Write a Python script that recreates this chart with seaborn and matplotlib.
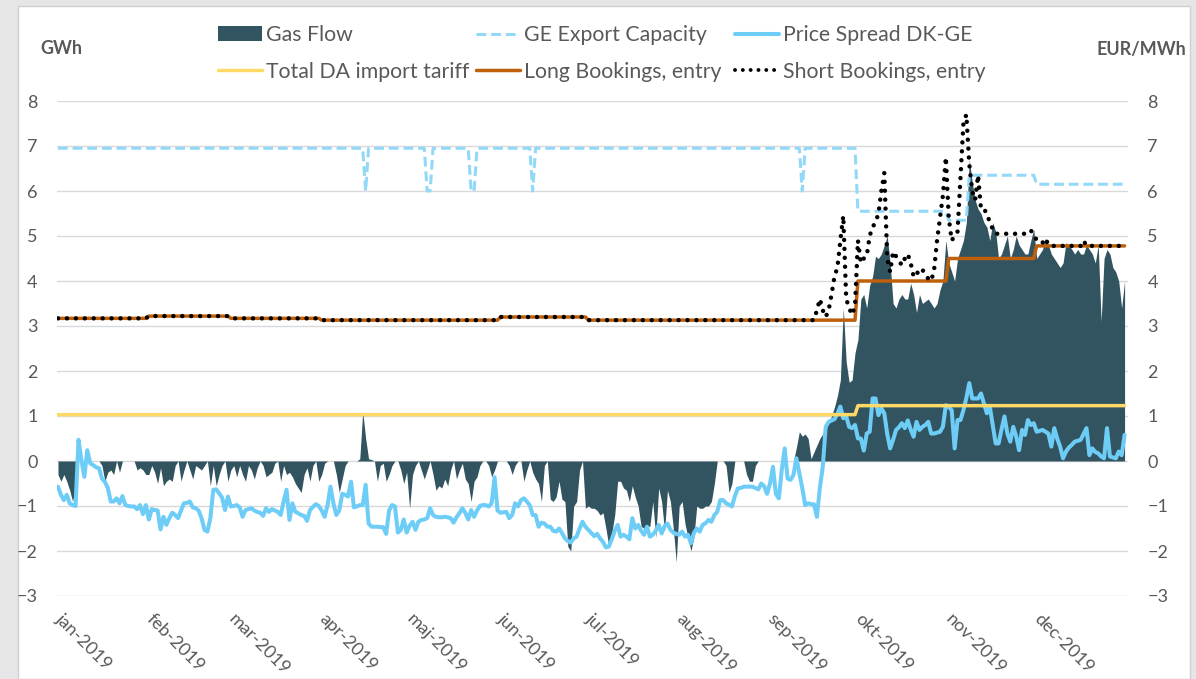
import matplotlib
matplotlib.use("Agg")
import matplotlib.pyplot as plt
from matplotlib.lines import Line2D
from matplotlib.patches import Patch, Rectangle
import numpy as np
import pandas as pd
import seaborn as sns

# ---- data (daily values for 2019) ----
month_labels = ["jan-2019", "feb-2019", "mar-2019", "apr-2019", "maj-2019", "jun-2019",
                "jul-2019", "aug-2019", "sep-2019", "okt-2019", "nov-2019", "dec-2019"]

gas_flow_jan = [-0.3, -0.45, -0.3, -0.45, -0.65, -0.9, -0.55, 0, 0, 0,
                0, 0, 0, 0, 0, -0.1, -0.45, -0.25, -0.2, -0.3,
                0, -0.25, 0, 0, 0, 0, 0, -0.2, -0.15, -0.2, -0.3]
gas_flow_feb = [-0.3, -0.1, -0.25, -0.5, -0.15, -0.55, -0.45, -0.4, -0.45, -0.1,
                0, -0.45, -0.2, 0, -0.2, -0.4, -0.1, -0.15, -0.2, -0.1,
                0, -0.55, -0.1, -0.55, -0.3, -0.1, 0, -0.45]
gas_flow_mar = [-0.2, -0.1, -0.35, -0.1, -0.3, -0.45, -0.1, -0.2, -0.4, -0.15,
                0, -0.1, -0.35, -0.3, -0.25, -0.05, 0, -0.45, -0.1, -0.3,
                -0.25, -0.35, -0.5, -0.6, -0.7, -0.3, -0.15, -0.45, -0.1, 0, -0.45]
gas_flow_apr = [-0.3, -0.05, 0, 0, 0, -0.3, -0.7, -0.4, -0.1, 0,
                0, 0, 0, 0.05, 1.1, 0.5, 0.05, 0.03, 0, -0.45,
                -0.1, -0.05, -0.45, -0.3, -0.1, 0, 0, -0.2, -0.5, -0.25]
gas_flow_may = [-1.05, -0.3, -0.1, 0, -0.2, -0.4, -0.2, 0, -0.3, -0.65,
                -0.55, -0.6, -0.4, -0.55, -0.2, 0, -0.4, -0.2, -0.05, -0.4,
                -0.5, -0.9, -0.45, -0.35, -0.1, 0, 0, -0.1, -0.35, -0.2, 0]
gas_flow_jun = [0, 0, 0, -0.1, -0.3, -0.1, 0, 0, -0.45, -0.2,
                0, -0.25, -0.4, -0.5, -0.9, -0.1, 0, -0.85, -0.9, -0.8,
                -0.45, -0.85, -0.9, -1.9, -2.0, -1.0, -0.9, -0.2, 0, -1.05]
gas_flow_jul = [-1.0, -1.05, -1.05, -1.1, -1.2, -1.15, -1.5, -1.9, -1.6, -1.2,
                -0.45, -0.45, -0.6, -0.65, -0.9, -0.55, -0.8, -1.0, -1.45, -1.5,
                -1.45, -1.45, -0.9, -1.7, -0.6, -0.9, -1.55, -0.65, -0.9, -1.5, -2.25]
gas_flow_aug = [-1.0, -0.9, -1.4, -1.7, -2.0, -1.7, -1.0, -1.05, -1.05, -1.0,
                -1.0, -0.9, -0.5, 0, 0, 0, -0.1, -0.7, -0.5, 0,
                0, 0, 0, -0.3, -0.45, -0.45, -0.1, 0, 0, 0, 0]
gas_flow_sep = [0, 0, 0, 0, 0, 0, 0, 0, 0, 0.3,
                0.65, 0.55, 0.6, 0.5, 0.05, 0.2, 0.35, 0.5, 0.6, 0.7,
                0.85, 1.0, 1.2, 1.45, 1.8, 3.4, 2.2, 1.75, 1.8, 2.4]
gas_flow_oct = [2.7, 3.6, 3.7, 3.4, 3.9, 4.1, 4.55, 4.5, 4.6, 4.8,
                5.0, 4.4, 3.5, 3.4, 3.6, 3.7, 3.6, 3.6, 3.95, 3.7,
                3.3, 3.7, 3.5, 3.55, 3.6, 3.5, 3.4, 3.5, 3.8, 4.0, 4.9]
gas_flow_nov = [4.4, 4.2, 4.0, 4.5, 4.7, 4.9, 5.3, 6.7, 6.2, 5.8,
                5.6, 5.5, 5.3, 5.2, 4.9, 5.3, 5.1, 4.5, 4.6, 4.8,
                5.0, 4.5, 4.7, 5.0, 4.8, 4.7, 4.6, 4.6, 4.9, 5.15]
gas_flow_dec = [4.5, 4.6, 4.7, 4.95, 4.8, 4.6, 4.5, 4.4, 4.3, 4.4,
                4.85, 4.8, 4.7, 4.6, 4.7, 4.6, 4.6, 4.8, 4.7, 4.6,
                4.4, 4.8, 3.1, 4.5, 4.7, 4.6, 4.3, 4.2, 4.0, 3.4, 4.0]

spread_jan = [-0.57, -0.75, -0.87, -0.75, -0.94, -0.98, -1.0, 0.47, 0.02, -0.35,
              0.24, -0.05, -0.09, -0.14, -0.16, -0.39, -0.46, -0.6, -0.9, -0.9,
              -0.83, -0.94, -0.78, -0.98, -1.0, -1.01, -1.01, -1.07, -0.98, -1.18, -0.98]
spread_feb = [-1.3, -1.07, -1.09, -1.1, -1.52, -1.24, -1.42, -1.27, -1.15, -1.2,
              -1.27, -1.1, -0.94, -0.93, -0.9, -1.03, -1.05, -1.1, -1.27, -1.53,
              -1.57, -1.27, -0.64, -0.63, -0.72, -0.81, -1.09, -0.79]
spread_mar = [-1.01, -1.0, -0.98, -1.03, -1.24, -1.09, -1.07, -1.05, -1.1, -1.13,
              -1.15, -1.22, -1.05, -1.13, -1.07, -1.1, -1.13, -1.2, -0.9, -0.64,
              -1.31, -0.94, -1.13, -1.16, -1.2, -1.22, -1.33, -1.09, -1.02, -0.96, -1.0]
spread_apr = [-1.1, -1.24, -0.98, -0.57, -0.94, -1.2, -1.1, -0.73, -0.75, -0.79,
              -0.46, -1.03, -1.01, -0.98, -0.98, -0.53, -1.39, -1.46, -1.46, -1.46,
              -1.47, -1.47, -1.62, -1.1, -0.98, -1.01, -1.59, -1.53, -1.3, -1.59]
spread_may = [-1.44, -1.35, -1.53, -1.35, -1.31, -1.3, -1.27, -1.05, -1.2, -1.24,
              -1.25, -1.25, -1.24, -1.25, -1.27, -1.37, -1.25, -1.16, -1.05, -1.15,
              -1.3, -1.09, -1.24, -1.1, -1.0, -0.98, -0.98, -1.01, -0.94, -0.36, -1.1]
spread_jun = [-1.15, -1.14, -1.13, -1.27, -1.2, -0.94, -1.01, -0.87, -0.83, -0.9,
              -0.98, -1.2, -1.2, -1.46, -1.37, -1.39, -1.46, -1.46, -1.55, -1.57,
              -1.5, -1.6, -1.72, -1.78, -1.81, -1.72, -1.68, -1.5, -1.35, -1.46]
spread_jul = [-1.53, -1.6, -1.67, -1.62, -1.72, -1.8, -1.92, -1.9, -1.74, -1.55,
              -1.42, -1.68, -1.64, -1.68, -1.74, -1.27, -1.5, -1.42, -1.55, -1.64,
              -1.46, -1.68, -1.64, -1.55, -1.42, -1.61, -1.45, -1.39, -1.53, -1.59, -1.62]
spread_aug = [-1.64, -1.57, -1.68, -1.64, -1.83, -1.6, -1.5, -1.57, -1.42, -1.38,
              -1.31, -1.35, -1.2, -1.13, -0.87, -0.87, -0.94, -0.97, -1.01, -0.78,
              -0.61, -0.6, -0.57, -0.57, -0.57, -0.57, -0.6, -0.63, -0.5, -0.56, -0.73]
spread_sep = [-0.5, -0.13, -0.73, -0.83, -0.2, 0.28, -0.39, -0.42, -0.31, 0.06,
              -0.27, -0.6, -0.98, -0.94, -0.96, -0.96, -1.24, -0.6, -0.13, 0.76,
              0.87, 0.9, 0.93, 1.05, 1.21, 0.95, 0.99, 0.76, 0.73, 0.8]
spread_oct = [0.5, 0.5, 0.23, 0.61, 0.65, 1.39, 1.39, 1.02, 1.17, 1.06,
              0.6, 0.28, 0.47, 0.69, 0.75, 0.84, 0.73, 0.9, 0.7, 0.54,
              0.87, 0.69, 0.76, 0.8, 0.87, 0.61, 0.61, 0.63, 0.65, 0.76, 1.24]
spread_nov = [1.2, 1.13, 0.28, 0.91, 0.91, 1.13, 1.4, 1.73, 1.39, 1.39,
              1.39, 1.5, 1.28, 1.06, 1.21, 0.8, 0.39, 0.39, 0.7, 0.99,
              0.61, 0.43, 0.76, 0.55, 0.24, 0.69, 0.58, 0.91, 0.8, 0.84]
spread_dec = [0.65, 0.67, 0.69, 0.65, 0.61, 0.32, 0.73, 0.5, 0.32, 0.06,
              0.21, 0.3, 0.36, 0.43, 0.45, 0.47, 0.6, 0.73, 0.13, 0.28,
              0.2, 0.17, 0.1, 0.06, 0.73, 0.1, 0.08, 0.06, 0.21, 0.13, 0.58]

# step series: date a level starts -> level
long_book_starts = ["2019-01-01", "2019-02-01", "2019-03-01", "2019-04-01", "2019-06-01",
                    "2019-07-01", "2019-10-01", "2019-11-01", "2019-12-01"]
long_book_levels = [3.17, 3.22, 3.17, 3.13, 3.2, 3.13, 4.0, 4.5, 4.78]

tariff_starts = ["2019-01-01", "2019-10-01"]
tariff_levels = [1.03, 1.23]

capacity_starts = ["2019-01-01", "2019-04-16", "2019-04-17", "2019-05-07", "2019-05-09",
                   "2019-05-22", "2019-05-24", "2019-06-12", "2019-06-13", "2019-09-12",
                   "2019-09-13", "2019-10-01", "2019-11-01", "2019-11-08", "2019-12-01"]
capacity_levels = [6.95, 6.0, 6.95, 6.0, 6.95, 6.0, 6.95, 6.0, 6.95, 6.0,
                   6.95, 5.55, 5.35, 6.35, 6.15]

# short bookings follow the long bookings until mid-September
short_from = "2019-09-17"
short_sep = [3.35, 3.6, 3.35, 3.2, 3.35, 3.7, 4.1, 4.3, 4.9, 5.45, 3.6, 3.4, 3.25, 3.45]
short_oct = [4.9, 4.4, 4.5, 4.55, 5.0, 5.2, 5.3, 5.5, 6.0, 6.4,
             4.5, 4.2, 4.65, 4.55, 4.45, 4.35, 4.5, 4.6, 4.4, 4.1,
             4.2, 4.15, 4.25, 4.15, 4.05, 4.0, 4.25, 4.9, 5.4, 5.9, 6.75]
short_nov = [5.4, 4.9, 5.0, 5.1, 6.3, 7.5, 7.7, 6.6, 6.0, 5.8,
             6.35, 5.6, 5.6, 5.5, 5.3, 5.15, 5.05, 5.05, 5.05, 5.05,
             5.05, 5.05, 5.05, 5.05, 5.05, 5.05, 5.05, 5.05, 5.12, 5.05]
short_dec = [4.9, 4.85, 4.85, 4.95, 4.8, 4.78, 4.78, 4.78, 4.78, 4.78,
             4.78, 4.78, 4.78, 4.78, 4.78, 4.78, 4.9, 4.78, 4.78, 4.78,
             4.78, 4.78, 4.78, 4.78, 4.78, 4.78, 4.78, 4.78, 4.78, 4.78, 4.78]

# ---- assemble ----
days = pd.date_range("2019-01-01", "2019-12-31", freq="D")
gas_flow = (gas_flow_jan + gas_flow_feb + gas_flow_mar + gas_flow_apr + gas_flow_may + gas_flow_jun
            + gas_flow_jul + gas_flow_aug + gas_flow_sep + gas_flow_oct + gas_flow_nov + gas_flow_dec)
spread = (spread_jan + spread_feb + spread_mar + spread_apr + spread_may + spread_jun
          + spread_jul + spread_aug + spread_sep + spread_oct + spread_nov + spread_dec)
assert len(gas_flow) == len(days), len(gas_flow)
assert len(spread) == len(days), len(spread)


def steps(starts, levels):
    s = pd.Series(levels, index=pd.to_datetime(starts))
    return s.reindex(days, method="ffill").to_numpy()


df = pd.DataFrame({"date": days, "gas_flow": gas_flow, "spread": spread})
df["long"] = steps(long_book_starts, long_book_levels)
df["tariff"] = steps(tariff_starts, tariff_levels)
df["capacity"] = steps(capacity_starts, capacity_levels)
short_autumn = short_sep + short_oct + short_nov + short_dec
df["short"] = df["long"]
mask = df["date"] >= pd.Timestamp(short_from)
assert mask.sum() == len(short_autumn), (mask.sum(), len(short_autumn))
df.loc[mask, "short"] = short_autumn

# ---- style ----
sns.set_theme(style="white")
plt.rcParams["font.family"] = ["Lato", "DejaVu Sans"]
grey_txt = "#595959"
c_area = "#325461"
c_cap = "#92d8f8"
c_spread = "#6dcdf7"
c_tariff = "#ffd966"
c_long = "#bf600c"
short_dash = (0, (0.01, 2.0))

W, H = 1196, 679
fig = plt.figure(figsize=(W / 100, H / 100), dpi=100)
fig.patch.set_facecolor("#e6e6e6")
fig.patches.append(Rectangle((18 / W, 0), (1190 - 18) / W, 1 - 6 / H, transform=fig.transFigure,
                             facecolor="white", edgecolor="#d0d0d0", lw=1, zorder=-10))

ax = fig.add_axes([57 / W, 1 - 596 / H, (1128 - 57) / W, (596 - 101) / H])
ax.set_facecolor("none")

ax.fill_between(df["date"], 0, df["gas_flow"], color=c_area, lw=0, zorder=2)
sns.lineplot(data=df, x="date", y="capacity", ax=ax, color=c_cap, lw=2.2,
             linestyle=(0, (3.2, 1.6)), zorder=3)
sns.lineplot(data=df, x="date", y="spread", ax=ax, color=c_spread, lw=2.9, zorder=4)
sns.lineplot(data=df, x="date", y="tariff", ax=ax, color=c_tariff, lw=2.5, zorder=5)
sns.lineplot(data=df, x="date", y="long", ax=ax, color=c_long, lw=2.5, zorder=6)
sns.lineplot(data=df, x="date", y="short", ax=ax, color="black", lw=3.2,
             linestyle=short_dash, dash_capstyle="round", zorder=7)

ax.set_xlim(days[0] - pd.Timedelta(hours=8), days[-1] + pd.Timedelta(hours=28))
ax.set_ylim(-3, 8)
ax.set_yticks(range(-3, 9))
ax.grid(axis="y", color="#d9d9d9", lw=1)
ax.grid(axis="x", visible=False)
ax.set_axisbelow(True)
for sp in ax.spines.values():
    sp.set_visible(False)
ax.set_xlabel("")
ax.set_ylabel("")
ax.tick_params(axis="y", length=0, pad=14, labelsize=13, labelcolor=grey_txt)

month_starts = pd.date_range("2019-01-01", periods=12, freq="MS")
ax.set_xticks(month_starts)
ax.set_xticklabels(month_labels, rotation=-45, ha="left", va="center",
                   rotation_mode="anchor", fontsize=13, color=grey_txt)
ax.tick_params(axis="x", length=0, pad=15)

ax2 = ax.twinx()
ax2.set_ylim(-3, 8)
ax2.set_yticks(range(-3, 9))
for sp in ax2.spines.values():
    sp.set_visible(False)
ax2.tick_params(axis="y", length=0, pad=14, labelsize=13, labelcolor=grey_txt)
ax2.grid(False)

fig.text(61 / W, 1 - 48 / H, "GWh", ha="center", va="center", fontsize=13,
         fontweight="bold", color=grey_txt)
fig.text(1141 / W, 1 - 50 / H, "EUR/MWh", ha="center", va="center", fontsize=13,
         fontweight="bold", color=grey_txt)

# legend: three columns of two rows, placed like the original
leg_cols = [
    (218, [Patch(facecolor=c_area, edgecolor="none"),
           Line2D([], [], color=c_tariff, lw=2.5)],
     ["Gas Flow", "Total DA import tariff"]),
    (476, [Line2D([], [], color=c_cap, lw=2.2, linestyle=(0, (3.2, 1.6))),
           Line2D([], [], color=c_long, lw=2.5)],
     ["GE Export Capacity", "Long Bookings, entry"]),
    (735, [Line2D([], [], color=c_spread, lw=2.9),
           Line2D([], [], color="black", lw=2.8, linestyle=short_dash,
                  dash_capstyle="round")],
     ["Price Spread DK-GE", "Short Bookings, entry"]),
]
for x0, handles, labels in leg_cols:
    leg = fig.legend(handles, labels, loc="upper left", bbox_to_anchor=(x0 / W, 1 - 25 / H),
                     frameon=False, fontsize=15.3, handlelength=2.07, handletextpad=0.2,
                     labelspacing=0.78, borderpad=0, borderaxespad=0)
    for t in leg.get_texts():
        t.set_color(grey_txt)

fig.savefig("out.png", dpi=100, facecolor=fig.get_facecolor())
